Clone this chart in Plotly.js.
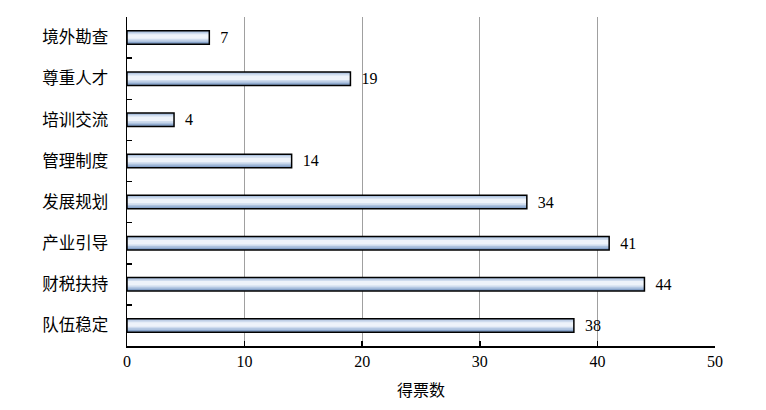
<!DOCTYPE html>
<html><head><meta charset="utf-8">
<script src="https://cdn.plot.ly/plotly-3.0.1.min.js"></script>
<style>html,body{margin:0;padding:0;background:#fff}</style>
</head><body>
<div id="chart" style="width:766px;height:410px"></div>
<script>
const categories = ["境外勘查","尊重人才","培训交流","管理制度","发展规划","产业引导","财税扶持","队伍稳定"];
const votes = [7,19,4,14,34,41,44,38];
const xTicks = [0,10,20,30,40,50];

// gradient layers: [offset, width, color]
const layers = [
  [-0.165, 0.33, "#86a2c9"],
  [-0.165, 0.275, "#aec3df"],
  [-0.12, 0.19, "#cfdcee"],
  [-0.08, 0.11, "#eef3fa"]
];
const traces = layers.map(l => ({
  type: "bar", orientation: "h", y: categories, x: votes,
  offset: l[0], width: l[1],
  marker: {color: l[2], line: {width: 0}},
  hoverinfo: "skip"
}));
traces.push({
  type: "bar", orientation: "h", y: categories, x: votes,
  offset: -0.165, width: 0.33,
  marker: {color: "rgba(0,0,0,0)", line: {color: "#000", width: 1.5}},
  text: votes.map(String), texttemplate: "\u00a0\u00a0%{text}", textposition: "outside",
  constraintext: "none", cliponaxis: false,
  textfont: {family: "Liberation Serif, Times New Roman, serif", size: 16, color: "#000"},
  hoverinfo: "skip"
});

const layout = {
  width: 766, height: 410,
  margin: {l: 127, r: 51, t: 17, b: 64},
  barmode: "overlay",
  showlegend: false,
  paper_bgcolor: "#fff", plot_bgcolor: "#fff",
  xaxis: {
    range: [0, 50], tickvals: xTicks, ticktext: xTicks.map(String),
    showgrid: true, gridcolor: "#a0a0a0", gridwidth: 1,
    zeroline: false, showline: true, linecolor: "#000", linewidth: 1.5,
    ticks: "inside", ticklen: 5, tickcolor: "#000", tickwidth: 1.5,
    tickfont: {family: "Liberation Serif, Times New Roman, serif", size: 16, color: "#000"},
    title: {text: "得票数", font: {family: "Noto Sans CJK SC, sans-serif", size: 16, color: "#000"}, standoff: 16}
  },
  yaxis: {
    type: "category", autorange: "reversed",
    showgrid: false, zeroline: false, showline: true, linecolor: "#000", linewidth: 1.5,
    ticks: "inside", tickson: "boundaries", ticklen: 5, tickcolor: "#000", tickwidth: 1.5,
    tickfont: {family: "Noto Sans CJK SC, sans-serif", size: 16.5, color: "#000"},
    ticklabelstandoff: 14
  }
};
Plotly.newPlot("chart", traces, layout, {displayModeBar: false, staticPlot: true});
</script>
</body></html>
